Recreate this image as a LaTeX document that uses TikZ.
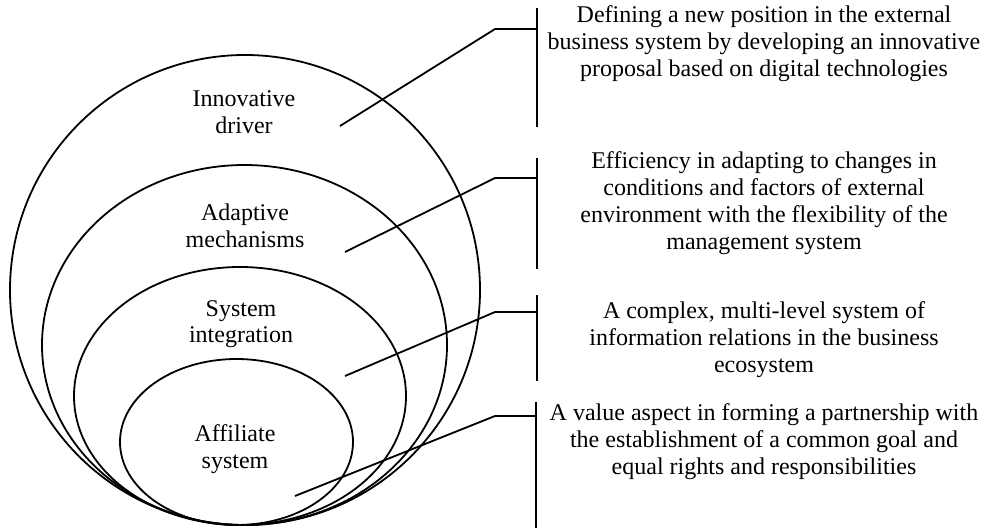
\documentclass[tikz,border=0pt]{standalone}
\usepackage{fontspec}
\setmainfont{Liberation Serif}
\begin{document}
\begin{tikzpicture}[x=1pt,y=-1pt,
  ring/.style={line width=1.8pt},
  lead/.style={line width=1.8pt},
  bar/.style={line width=1.8pt},
  lbl/.style={align=center,inner sep=0pt,font=\fontsize{24}{26.5}\selectfont},
  desc/.style={align=center,inner sep=0pt,font=\fontsize{24}{27}\selectfont}]
\useasboundingbox (0,0) rectangle (990,530);
% ellipses
\draw[ring] (245,290) ellipse [x radius=235pt, y radius=235pt];
\draw[ring] (244.5,345) ellipse [x radius=202.5pt, y radius=180pt];
\draw[ring] (240,396) ellipse [x radius=166pt, y radius=129pt];
\draw[ring] (236.5,442) ellipse [x radius=116.5pt, y radius=83pt];
% inner labels
\node[lbl] (l1) at (244,112) {Innovative\\driver};
\node[lbl] (l2) at (245,226) {Adaptive\\mechanisms};
\node[lbl] (l3) at (241,324) {System\\integration};
\node[lbl] (l4) at (235,449) {Affiliate\\system};
% descriptions
\node[desc] (d1) at (764,44) {Defining a new position in the external\\business system by developing an innovative\\proposal based on digital technologies};
\node[desc] (d2) at (764,203) {Efficiency in adapting to changes in\\conditions and factors of external\\environment with the flexibility of the\\management system};
\node[desc] (d3) at (764,340) {A complex, multi-level system of\\information relations in the business\\ecosystem};
\node[desc] (d4) at (764,442) {A value aspect in forming a partnership with\\the establishment of a common goal and\\equal rights and responsibilities};
% bars
\coordinate (b1t) at (537,8);   \coordinate (b1b) at (537,127);
\coordinate (b2t) at (537,158); \coordinate (b2b) at (537,269);
\coordinate (b3t) at (537,295); \coordinate (b3b) at (537,381);
\coordinate (b4t) at (536,402); \coordinate (b4b) at (536,528);
\draw[bar] (b1t) -- (b1b);
\draw[bar] (b2t) -- (b2b);
\draw[bar] (b3t) -- (b3b);
\draw[bar] (b4t) -- (b4b);
% leader lines
\coordinate (s1) at (340,126); \coordinate (k1) at (495,29);  \coordinate (e1) at (537,29);
\coordinate (s2) at (345,252); \coordinate (k2) at (495,178); \coordinate (e2) at (537,178);
\coordinate (s3) at (345,376); \coordinate (k3) at (495,312); \coordinate (e3) at (537,312);
\coordinate (s4) at (295,496); \coordinate (k4) at (495,416); \coordinate (e4) at (536,416);
\draw[lead] (s1) -- (k1) -- (e1);
\draw[lead] (s2) -- (k2) -- (e2);
\draw[lead] (s3) -- (k3) -- (e3);
\draw[lead] (s4) -- (k4) -- (e4);
\end{tikzpicture}
\end{document}
